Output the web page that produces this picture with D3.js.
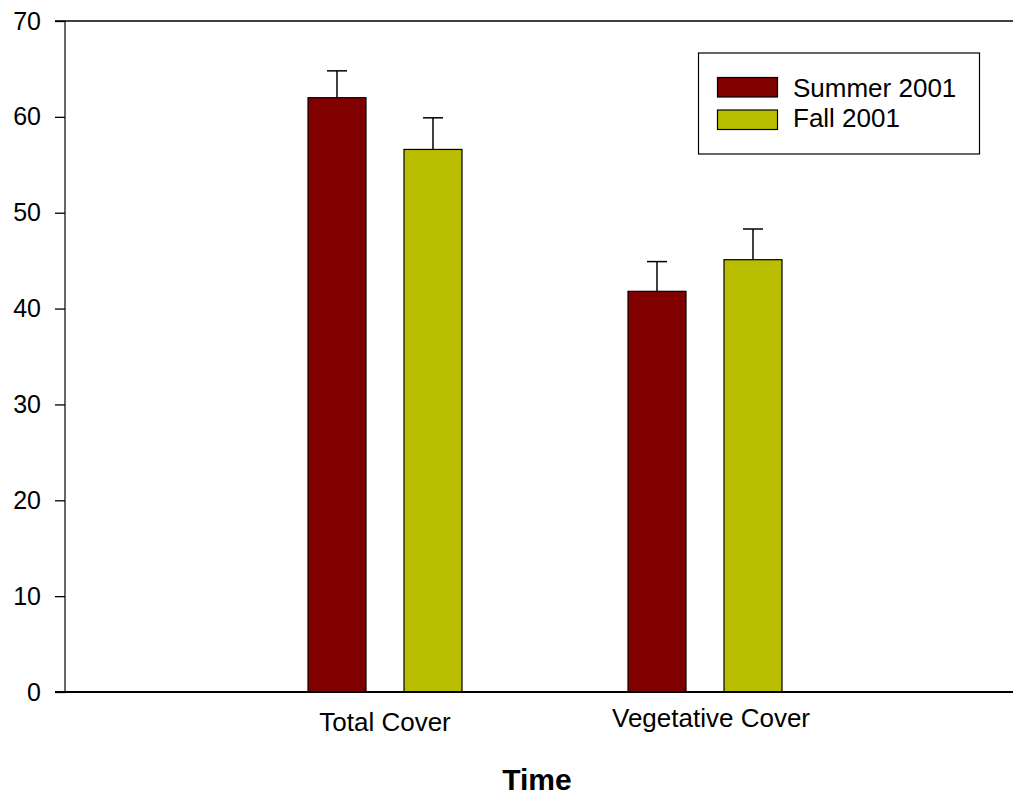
<!DOCTYPE html>
<html>
<head>
<meta charset="utf-8">
<script src="https://cdn.jsdelivr.net/npm/d3@7"></script>
<style>
  body { margin: 0; background: #fff; }
  svg { display: block; font-family: "Liberation Sans", Arial, sans-serif; }
</style>
</head>
<body>
<div id="chart"></div>
<script>
// data
var categories = ["Total Cover", "Vegetative Cover"];
var seriesNames = ["Summer 2001", "Fall 2001"];
var seriesColors = ["#800000", "#b9bf00"];
var summerValues = [62.0, 41.8];
var summerErrors = [2.8, 3.1];
var fallValues = [56.6, 45.1];
var fallErrors = [3.3, 3.2];
var yTicks = [0, 10, 20, 30, 40, 50, 60, 70];

var width = 1013, height = 797;

var svg = d3.select("#chart").append("svg")
    .attr("width", width)
    .attr("height", height);

// x runs past the right edge of the picture, as in the original
var x = d3.scaleLinear().domain([0, 3]).range([65, 1025]);
var y = d3.scaleLinear().domain([0, 70]).range([692, 21]);

var barW = 58, offset = 48;

var series = [
    {name: seriesNames[0], color: seriesColors[0], values: summerValues, errors: summerErrors, dx: -offset},
    {name: seriesNames[1], color: seriesColors[1], values: fallValues, errors: fallErrors, dx: offset}
];

// bars + error bars
series.forEach(function (s) {
    var g = svg.append("g");
    s.values.forEach(function (v, i) {
        var cx = x(i + 1) + s.dx;
        g.append("line")
            .attr("x1", cx).attr("x2", cx)
            .attr("y1", y(v)).attr("y2", y(v + s.errors[i]))
            .attr("stroke", "#000").attr("stroke-width", 1.5);
        g.append("line")
            .attr("x1", cx - 10).attr("x2", cx + 10)
            .attr("y1", y(v + s.errors[i])).attr("y2", y(v + s.errors[i]))
            .attr("stroke", "#000").attr("stroke-width", 1.5);
        g.append("rect")
            .attr("x", cx - barW / 2)
            .attr("y", y(v))
            .attr("width", barW)
            .attr("height", y(0) - y(v))
            .attr("fill", s.color)
            .attr("stroke", "#000")
            .attr("stroke-width", 1.2);
    });
});

// y axis
var yAxis = d3.axisLeft(y).tickValues(yTicks).tickSize(10).tickPadding(14);
var yg = svg.append("g").attr("transform", "translate(65,0)").call(yAxis);
yg.select(".domain").remove();
yg.selectAll(".tick line").attr("stroke-width", 1.3);
yg.selectAll(".tick text")
    .style("font-family", "Liberation Sans, Arial, sans-serif")
    .style("font-size", "25px")
    .attr("fill", "#000");
svg.append("line")
    .attr("x1", 65).attr("x2", 65).attr("y1", y(70)).attr("y2", y(0))
    .attr("stroke", "#000").attr("stroke-width", 1.2);

// top border and baseline
svg.append("line")
    .attr("x1", 55).attr("x2", width).attr("y1", y(70)).attr("y2", y(70))
    .attr("stroke", "#000").attr("stroke-width", 1.6);
svg.append("line")
    .attr("x1", 55).attr("x2", width).attr("y1", y(0)).attr("y2", y(0))
    .attr("stroke", "#000").attr("stroke-width", 2.2);

// category labels
var labelDx = [0, 6], labelY = [731, 727];
categories.forEach(function (c, i) {
    svg.append("text")
        .attr("x", x(i + 1) + labelDx[i])
        .attr("y", labelY[i])
        .attr("text-anchor", "middle")
        .style("font-size", "26px")
        .text(c);
});

svg.append("text")
    .attr("x", 537)
    .attr("y", 790)
    .attr("text-anchor", "middle")
    .style("font-size", "30px")
    .style("font-weight", "bold")
    .text("Time");

// legend
var lg = svg.append("g");
lg.append("rect")
    .attr("x", 698.5).attr("y", 53)
    .attr("width", 281).attr("height", 101)
    .attr("fill", "#fff").attr("stroke", "#000").attr("stroke-width", 1.2);
series.forEach(function (s, i) {
    var yy = 77.5 + i * 32.5;
    lg.append("rect")
        .attr("x", 717.5).attr("y", yy)
        .attr("width", 60).attr("height", 19.5)
        .attr("fill", s.color).attr("stroke", "#000").attr("stroke-width", 1.2);
    lg.append("text")
        .attr("x", 793)
        .attr("y", 96.7 + i * 30.3)
        .style("font-size", "26px")
        .text(s.name);
});
</script>
</body>
</html>
